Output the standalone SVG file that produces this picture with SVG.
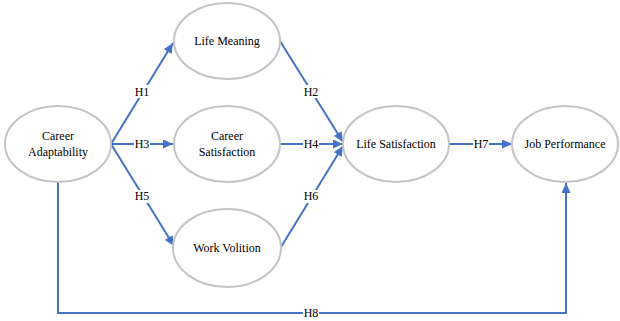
<svg xmlns="http://www.w3.org/2000/svg" width="620" height="321" viewBox="0 0 620 321" font-family="'Liberation Serif', 'Times New Roman', 'DejaVu Serif', serif">
<defs>
<marker id="arr" markerUnits="userSpaceOnUse" markerWidth="10" markerHeight="9" refX="10" refY="4.5" orient="auto">
<path d="M0,0 L10,4.5 L0,9 z" fill="#4472C4"/>
</marker>
</defs>
<style>
.node ellipse{fill:#fff;stroke:#c4c4c4;stroke-width:2}
text{font-family:'Liberation Serif','Times New Roman','DejaVu Serif',serif;font-size:12px;fill:#000;text-anchor:middle}
.conn line,.conn polyline{stroke:#4472C4;stroke-width:2;fill:none}
.lbl rect{fill:#fff}
</style>
<rect width="620" height="321" fill="#fff"/>
<g id="connectors" class="conn">
<line x1="111" y1="144" x2="173" y2="43" marker-end="url(#arr)"/>
<line x1="111" y1="144" x2="173" y2="144" marker-end="url(#arr)"/>
<line x1="111" y1="144" x2="174" y2="246" marker-end="url(#arr)"/>
<line x1="280" y1="41" x2="343" y2="142" marker-end="url(#arr)"/>
<line x1="281" y1="144" x2="343" y2="144" marker-end="url(#arr)"/>
<line x1="281" y1="247" x2="343" y2="146" marker-end="url(#arr)"/>
<line x1="450" y1="144" x2="512" y2="144" marker-end="url(#arr)"/>
<polyline points="58,182 58,313 566,313 566,183" marker-end="url(#arr)"/>
<g class="lbl">
<rect x="134" y="85" width="16" height="13"/><text x="142" y="96">H1</text>
<rect x="134" y="138" width="16" height="13"/><text x="142" y="148">H3</text>
<rect x="134" y="190" width="16" height="13"/><text x="142" y="200">H5</text>
<rect x="303" y="85" width="16" height="13"/><text x="311" y="96">H2</text>
<rect x="303" y="138" width="16" height="13"/><text x="311" y="148">H4</text>
<rect x="303" y="190" width="16" height="13"/><text x="311" y="200">H6</text>
<rect x="473" y="138" width="16" height="13"/><text x="481" y="148">H7</text>
<rect x="303" y="307" width="16" height="13"/><text x="311" y="317">H8</text>
</g>
</g>
<g id="career-adaptability" class="node">
<ellipse cx="58" cy="144" rx="53" ry="38"/>
<text x="58" y="140">Career</text>
<text x="58" y="156">Adaptability</text>
</g>
<g id="life-meaning" class="node">
<ellipse cx="227" cy="41" rx="53" ry="38"/>
<text x="227" y="45">Life Meaning</text>
</g>
<g id="career-satisfaction" class="node">
<ellipse cx="227" cy="144" rx="53" ry="38"/>
<text x="227" y="140">Career</text>
<text x="227" y="156">Satisfaction</text>
</g>
<g id="work-volition" class="node">
<ellipse cx="227" cy="248" rx="54" ry="39"/>
<text x="227" y="252">Work Volition</text>
</g>
<g id="life-satisfaction" class="node">
<ellipse cx="396" cy="144" rx="53" ry="38"/>
<text x="396" y="148">Life Satisfaction</text>
</g>
<g id="job-performance" class="node">
<ellipse cx="565" cy="144" rx="53" ry="38"/>
<text x="565" y="148">Job Performance</text>
</g>
</svg>
